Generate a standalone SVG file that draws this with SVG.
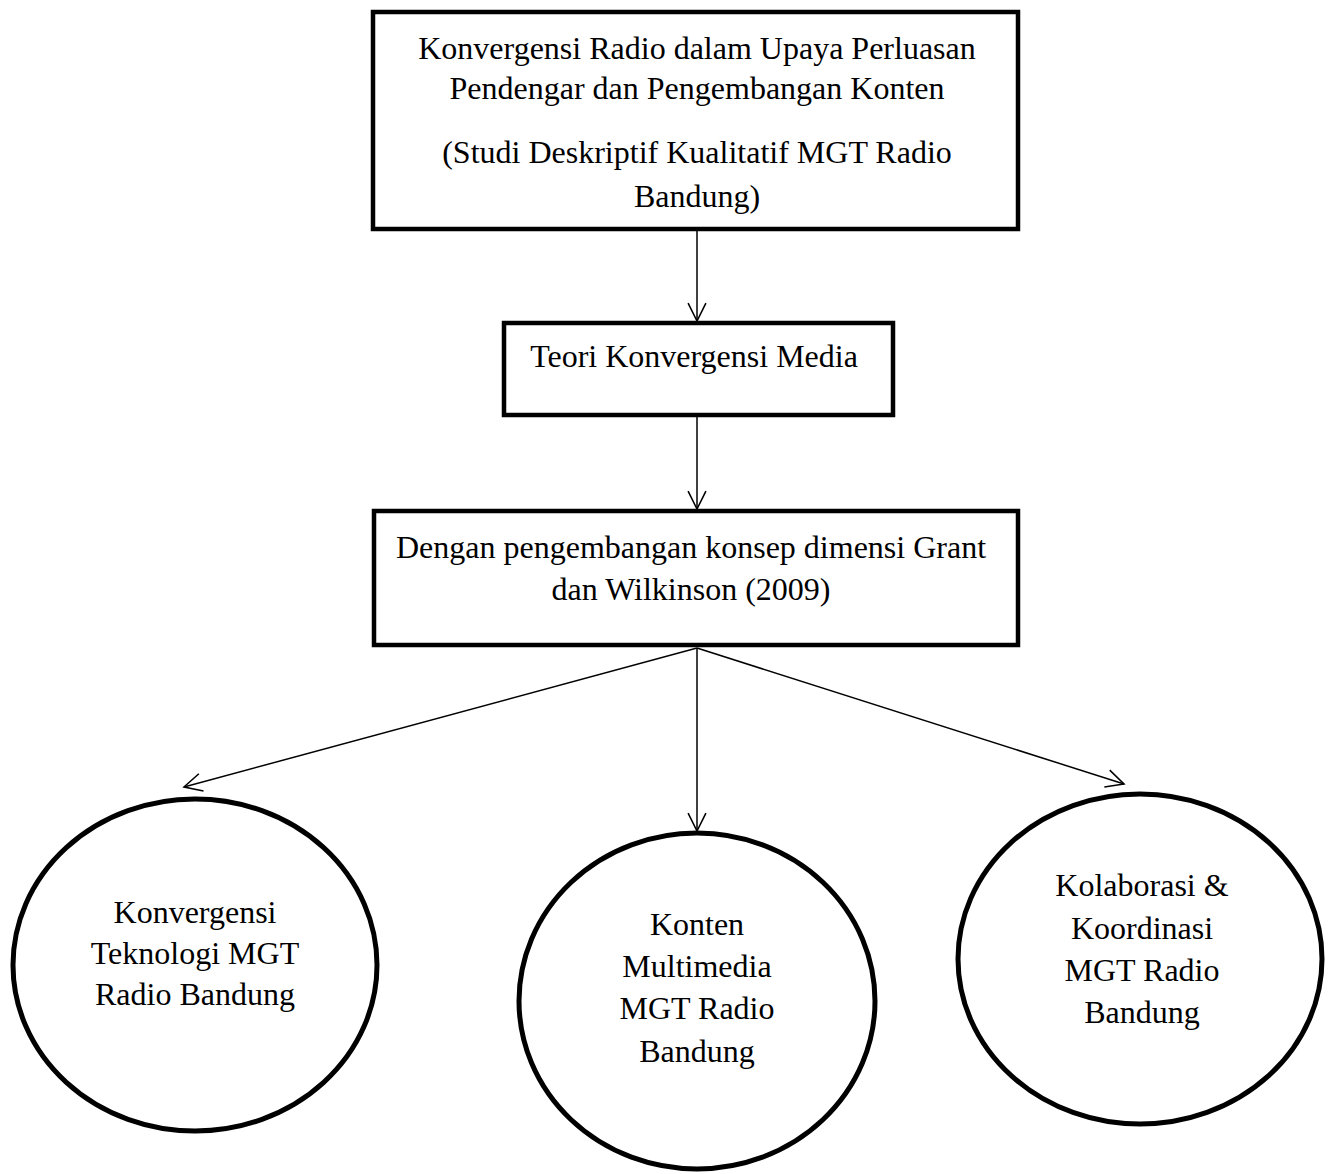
<svg xmlns="http://www.w3.org/2000/svg" width="1330" height="1174" viewBox="0 0 1330 1174">
<style>
.box{fill:#fff;stroke:#000;stroke-width:4.5}
.ell{fill:#fff;stroke:#000;stroke-width:5}
.t{font-family:"Liberation Serif","Times New Roman",serif;font-size:32px;fill:#000;text-anchor:middle}
.c{stroke:#000;stroke-width:1.5;fill:none;marker-end:url(#ah)}
</style>
<defs>
<marker id="ah" markerUnits="userSpaceOnUse" markerWidth="22" markerHeight="22" viewBox="-19 -10 21 20" refX="0" refY="0" orient="auto">
<path d="M-17,-8.5 L0,0 L-17,8.5" fill="none" stroke="#000" stroke-width="1.5"/>
</marker>
</defs>
<rect width="1330" height="1174" fill="#fff"/>
<g id="connectors">
<line class="c" x1="697" y1="230" x2="697" y2="321"/>
<line class="c" x1="697" y1="415" x2="697" y2="509"/>
<line class="c" x1="697" y1="648" x2="184" y2="787"/>
<line class="c" x1="697" y1="648" x2="697" y2="831"/>
<line class="c" x1="697" y1="648" x2="1124" y2="784"/>
</g>
<g id="node-top">
<rect class="box" x="373" y="12" width="645" height="217"/>
<text class="t" x="697" y="59">Konvergensi Radio dalam Upaya Perluasan</text>
<text class="t" x="697" y="99">Pendengar dan Pengembangan Konten</text>
<text class="t" x="697" y="163">(Studi Deskriptif Kualitatif MGT Radio</text>
<text class="t" x="697" y="207">Bandung)</text>
</g>
<g id="node-teori">
<rect class="box" x="504" y="323" width="389" height="92"/>
<text class="t" x="694" y="367">Teori Konvergensi Media</text>
</g>
<g id="node-grant">
<rect class="box" x="374" y="511" width="644" height="134"/>
<text class="t" x="691" y="558">Dengan pengembangan konsep dimensi Grant</text>
<text class="t" x="691" y="600">dan Wilkinson (2009)</text>
</g>
<g id="node-teknologi">
<ellipse class="ell" cx="195" cy="965" rx="182" ry="166"/>
<text class="t" x="195" y="923">Konvergensi</text>
<text class="t" x="195" y="964">Teknologi MGT</text>
<text class="t" x="195" y="1005">Radio Bandung</text>
</g>
<g id="node-konten">
<ellipse class="ell" cx="697" cy="1001" rx="178" ry="168"/>
<text class="t" x="697" y="935">Konten</text>
<text class="t" x="697" y="977">Multimedia</text>
<text class="t" x="697" y="1019">MGT Radio</text>
<text class="t" x="697" y="1062">Bandung</text>
</g>
<g id="node-kolaborasi">
<ellipse class="ell" cx="1140" cy="959" rx="182" ry="165"/>
<text class="t" x="1142" y="896">Kolaborasi &amp;</text>
<text class="t" x="1142" y="939">Koordinasi</text>
<text class="t" x="1142" y="981">MGT Radio</text>
<text class="t" x="1142" y="1023">Bandung</text>
</g>
</svg>
